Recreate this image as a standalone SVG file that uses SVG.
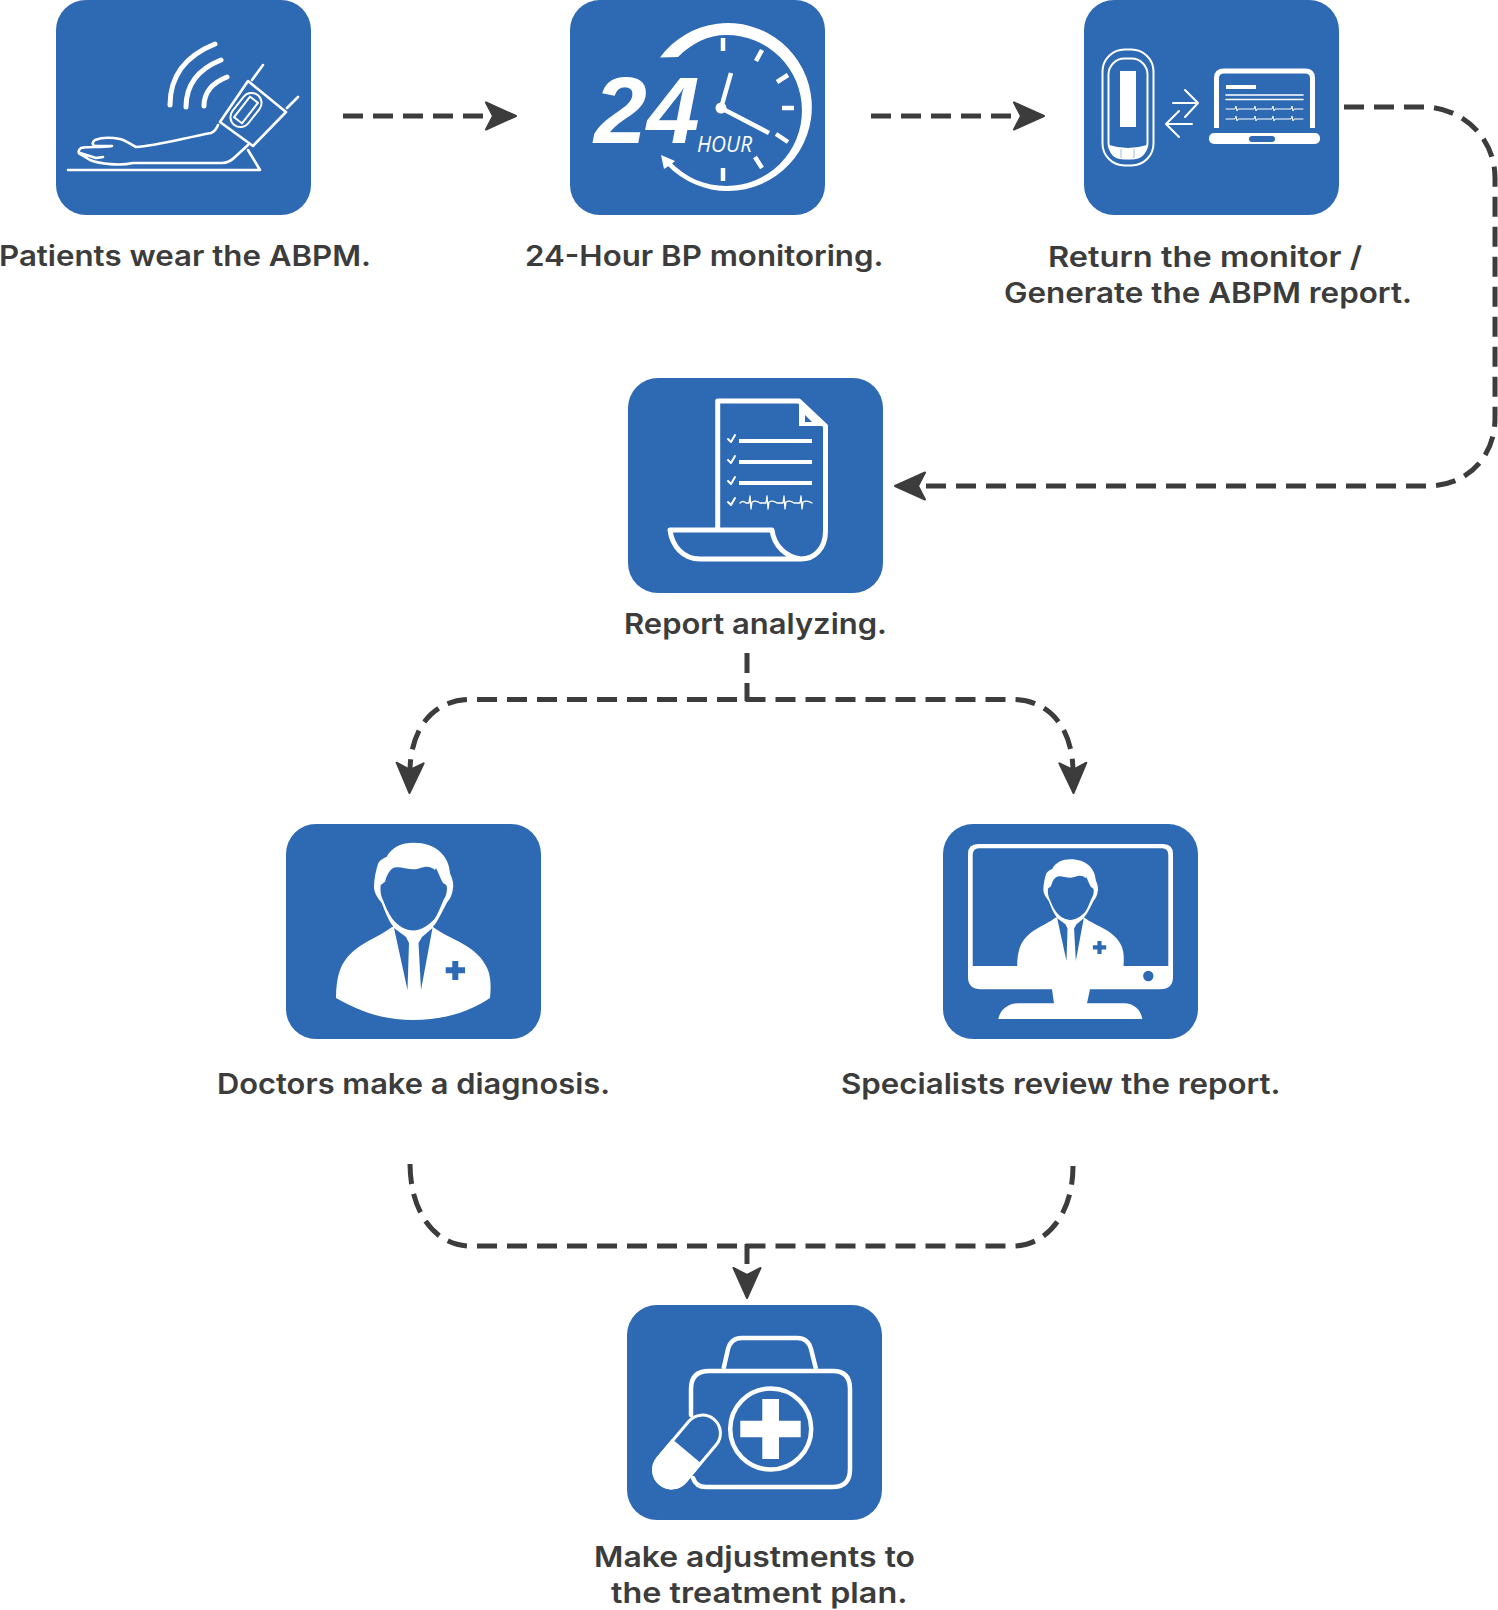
<svg xmlns="http://www.w3.org/2000/svg" xmlns:xlink="http://www.w3.org/1999/xlink" width="1498" height="1610" viewBox="0 0 1498 1610">
<style>
.box{fill:#2e6ab3}
.lbl{font-family:"Inter","Noto Sans","Liberation Sans",sans-serif;font-weight:600;font-size:28.5px;fill:#3c3c3c}
.conn{fill:none;stroke:#3c3c3c;stroke-width:5;stroke-dasharray:20 10}
.w{fill:#fff}
.b{fill:#2e6ab3}
.ln{fill:none;stroke:#fff;stroke-linecap:round;stroke-linejoin:round}
.s1{stroke-width:1}.s2{stroke-width:2}.s25{stroke-width:2.6}.s4{stroke-width:4.5}.s5{stroke-width:5}
</style>
<defs>
<marker id="head" viewBox="-2 -17 36 34" refX="7" refY="0" markerWidth="36" markerHeight="34" markerUnits="userSpaceOnUse" orient="auto">
<path d="M0 -13.5L30 0L0 13.5L7 0Z" fill="#3c3c3c" stroke="#3c3c3c" stroke-width="2" stroke-linejoin="round"/>
</marker>
<g id="doctor">
<path class="w" d="M392 927C375 940 350 945 340 970C337 978 336 988 336 998C360 1012 385 1020 413 1020C442 1020 470 1012 490 998C491 988 491 978 488 970C478 945 450 940 433 927Z"/>
<path class="w" d="M386.700 856.700C392 847 402 842.700 413.300 842.700C436 842.700 449 856 450 873.300C453 880 454 885 452.700 890C452 896 449 900 446.700 903C441 914 438 921 433 926.700C427 933 420 936.700 413.300 936.700C406 936.700 399 933 393.300 926.700C388 920 385 911 381.700 903C377 897 374 892 374 886.700C374 879 376 870 378.300 863C381 859 384 858 386.700 856.700Z"/>
<path class="b" d="M380.700 885L385 881.700C387 875 390 867.300 397 867.300C402 867.300 408 869.300 413.300 869.300C419 869.300 422 866.700 427 866.700C430 866.700 433 868 435 870L436 868C439 874 441 880 443.300 883.300C445 884 447 885 447 888C447 893 445.500 897 444 899C440 908 438 914 434.500 919C428 926 420 930.500 413.300 930.500C406 930.500 398 926 392.500 919C388 913 385.500 906 382.500 899C381 896 380 890 380.700 885Z"/>
<path class="b" d="M394 928L406 937L409 943L407.500 990ZM432.500 928L422 937L418.500 943L421 990Z"/>
<path class="b" d="M452.300 961H458.300V967.300H465V973.300H458.300V980H452.300V973.300H445.700V967.300H452.300Z"/>
</g>
</defs>

<g id="connectors">
<path class="conn" marker-end="url(#head)" d="M343 116H493"/>
<path class="conn" marker-end="url(#head)" d="M871 116H1021"/>
<path class="conn" marker-end="url(#head)" d="M1344 107H1423C1463 107 1495 138 1495 178V418C1495 458 1466 486 1428 486H918"/>
<path class="conn" d="M747 653V701"/>
<path class="conn" marker-end="url(#head)" d="M737 699.500H470C437 699.500 411 724 410 770"/>
<path class="conn" marker-end="url(#head)" d="M745.500 699.500H1013C1046 699.500 1072 724 1073 770"/>
<path class="conn" d="M737 1246H470C437 1246 410 1215 410 1163"/>
<path class="conn" d="M745.500 1246H1013C1046 1246 1073 1215 1073 1166"/>
<path class="conn" d="M747 1244V1264"/>
<path fill="none" marker-end="url(#head)" d="M747 1270V1275"/>
</g>

<g id="node-wear">
<rect class="box" x="56" y="0" width="255" height="215" rx="30"/>
<path class="ln s5" d="M215 44Q170 62 170 105M221 60Q186 74 186 107M227 77Q204 86 204 106"/>
<path class="ln s25" d="M248 81L286 112L253 146L220 122ZM252 80L263 65M287 108L298 97"/>
<g transform="translate(246 110) rotate(38)">
<rect class="ln s2" x="-10" y="-19" width="20" height="38" rx="10"/>
<rect class="ln s2" x="-5" y="-13" width="10" height="26"/>
</g>
<path class="ln s25" d="M218 125C216 130 214 132 211 133C180 139 155 146 136 147C130 144 125 140 120 139C110 137 100 138 95 140C92 142 92 145 95 146H112C100 148 90 146 81 148C78 150 78 153 80 154L90 160C100 164 120 166 133 163H222C228 163 232 160 235 157L248 145M80 153Q90 156 96 158L103 157"/>
<path class="ln s25" d="M68 170H260L248 150"/>
<text class="lbl" x="-1" y="266" textLength="372" lengthAdjust="spacingAndGlyphs">Patients wear the ABPM.</text>
</g>

<g id="node-monitoring">
<rect class="box" x="570" y="0" width="255" height="215" rx="30"/>
<path class="w" d="M660 57.500A84 84 0 1 1 667 165L670 161.500C686 178 705 186 726.500 186A75.500 75.500 0 0 0 726.500 35C708 35 692 43 678 57Z"/>
<path class="w" d="M661 155L675 161L671 164.500L664 169Z"/>
<path class="ln" stroke-width="4.500" style="stroke-linecap:butt" d="M723 38V51M762 50L756 61M788 75L777 82M794 108H782M788 142L776 134M762 168L755 157M723 168V181"/>
<circle class="w" cx="721" cy="108" r="5.500"/>
<path class="ln" style="stroke-linecap:butt" stroke-width="4.500" d="M731 73L721 108L769 133"/>
<text x="594" y="143" font-family="Liberation Sans,Arial,sans-serif" font-weight="700" font-style="italic" font-size="95" fill="#fff">24</text>
<text x="697" y="152" font-family="Open Sans,Liberation Sans,sans-serif" font-style="italic" font-weight="400" font-size="21" fill="#fff" textLength="55" lengthAdjust="spacingAndGlyphs">HOUR</text>
<text class="lbl" x="525" y="266" textLength="358.500" lengthAdjust="spacingAndGlyphs">24-Hour BP monitoring.</text>
</g>

<g id="node-return">
<rect class="box" x="1084" y="0" width="255" height="215" rx="30"/>
<rect class="ln s2" x="1102.500" y="49.500" width="51" height="116" rx="22"/>
<rect class="ln s2" x="1108.500" y="58.500" width="39" height="100" rx="16"/>
<rect class="w" x="1120" y="71" width="16" height="56"/>
<path class="w" d="M1109 145Q1128 151 1147 145C1147 155 1140 159 1134 159H1122C1115 159 1109 155 1109 145Z"/>
<path fill="none" stroke="#9dbde0" stroke-width="1" d="M1121 149V158M1134 149V158"/>
<path class="ln s2" d="M1173 103H1198M1185 90L1198 103L1185 117M1192 124H1166M1179 111L1166 124L1179 137"/>
<path class="ln" style="stroke-linecap:butt" stroke-width="5" d="M1216.500 128V78Q1216.500 71 1224 71H1305Q1312.500 71 1312.500 78V128"/>
<rect class="w" x="1209" y="133" width="111" height="11" rx="5"/>
<rect class="b" x="1249" y="136" width="26" height="6" rx="3"/>
<rect class="w" x="1226" y="85" width="30" height="4"/>
<path class="ln" stroke-width="1.600" d="M1226 95H1303M1226 99.500H1303"/>
<path class="ln s1" d="M1226 109H1235L1236 106L1237 111L1238 109H1254L1255 106L1256 111L1257 109H1272L1273 106L1274 111L1275 109H1291L1292 106L1293 111L1294 109H1303M1226 119H1235L1236 116L1237 121L1238 119H1254L1255 116L1256 121L1257 119H1272L1273 116L1274 121L1275 119H1291L1292 116L1293 121L1294 119H1303"/>
<text class="lbl" x="1048" y="267" textLength="314" lengthAdjust="spacingAndGlyphs">Return the monitor /</text>
<text class="lbl" x="1004" y="303" textLength="408" lengthAdjust="spacingAndGlyphs">Generate the ABPM report.</text>
</g>

<g id="node-report">
<rect class="box" x="628" y="378" width="255" height="215" rx="30"/>
<path class="ln s5" d="M717.700 530V401H799L825.500 426V531C825.500 549 814 559 801 559H700C683 559 672 546 670 530H772C774 546 786 557 801 559"/>
<path class="w" d="M799 399L827 426H799Z"/>
<path class="b" d="M805 415L812 422H805Z"/>
<path class="ln" style="stroke-linecap:butt" stroke-width="4.200" d="M739 441H812M739 462H812M739 483H812"/>
<path class="ln s2" d="M728 439L731 442L735 435M728 460L731 463L735 456M728 481L731 484L735 477M728 502L731 505L735 498"/>
<path class="ln" stroke-width="1.300" d="M740 503Q743 500 746 503H749L750 496L751 509L752 502Q756 500 760 503H766L767 496L768 509L769 502Q773 500 777 503H783L784 496L785 509L786 502Q790 500 794 503H800L801 496L802 509L803 502Q807 500 812 503"/>
<text class="lbl" x="624" y="634" textLength="263" lengthAdjust="spacingAndGlyphs">Report analyzing.</text>
</g>

<g id="node-doctor">
<rect class="box" x="286" y="824" width="255" height="215" rx="30"/>
<use href="#doctor" xlink:href="#doctor"/>
<text class="lbl" x="217" y="1094" textLength="393" lengthAdjust="spacingAndGlyphs">Doctors make a diagnosis.</text>
</g>

<g id="node-specialist">
<rect class="box" x="943" y="824" width="255" height="215" rx="30"/>
<path class="w" d="M978 844H1163Q1173 844 1173 854V977Q1173 989.300 1160 989.300H1090L1087 1003.300H1124C1134 1003.300 1141 1010 1142.300 1019H998.300C1000 1010 1008 1003.300 1018 1003.300H1054L1052 989.300H981Q968 989.300 968 977V854Q968 844 978 844Z"/>
<path class="b" d="M979 848.300H1162Q1168.300 848.300 1168.300 855V966H972.700V855Q972.700 848.300 979 848.300Z"/>
<use href="#doctor" xlink:href="#doctor" transform="translate(1070.500 859.300) scale(.69) translate(-413.300 -842.700)"/>
<circle class="b" cx="1148.300" cy="976" r="5.200"/>
<text class="lbl" x="841" y="1094" textLength="439.500" lengthAdjust="spacingAndGlyphs">Specialists review the report.</text>
</g>

<g id="node-treatment">
<rect class="box" x="627" y="1305" width="255" height="215" rx="30"/>
<path class="ln s4" style="stroke-linecap:butt" d="M723.500 1369L728 1349Q731 1338 742 1338H797Q808 1338 811 1349L816 1369"/>
<path class="ln s4" d="M691 1415V1389Q691 1371 709 1371H833Q850 1371 850 1389V1469Q850 1487 833 1487H706Q696 1487 693 1478"/>
<circle class="ln s4" cx="770.700" cy="1429" r="40.500"/>
<path class="w" d="M762.300 1399H779V1420.700H800.700V1437.300H779V1459H762.300V1437.300H740.300V1420.700H762.300Z"/>
<g transform="translate(687 1451.500) rotate(40)">
<rect class="b" x="-18" y="-42" width="36" height="84" rx="18"/>
<rect class="ln" stroke-width="3" x="-18" y="-42" width="36" height="84" rx="18"/>
<path class="w" d="M-19.500 0H19.500V24A19.500 19.500 0 0 1 -19.500 24Z"/>
</g>
<text class="lbl" x="594" y="1567" textLength="321" lengthAdjust="spacingAndGlyphs">Make adjustments to</text>
<text class="lbl" x="611" y="1603" textLength="296.500" lengthAdjust="spacingAndGlyphs">the treatment plan.</text>
</g>
</svg>
